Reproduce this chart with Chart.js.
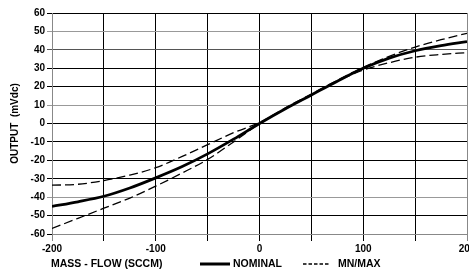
<!DOCTYPE html>
<html>
<head>
<meta charset="utf-8">
<script src="https://cdn.jsdelivr.net/npm/chart.js@4/dist/chart.umd.min.js"></script>
<style>
html,body{margin:0;padding:0;background:#fff;}
#wrap{position:relative;width:469px;height:269px;}
canvas{display:block;}
</style>
</head>
<body>
<div id="wrap"><canvas id="c" width="469" height="269"></canvas></div>
<script>
// ---- data ----
const flowValues = [-200,-175,-150,-125,-100,-75,-50,-25,0,25,50,75,100,125,150,175,200];
const nominalOutput = [-45,-42.5,-39.5,-35,-29.5,-23.5,-16.5,-8.5,0,8,15.5,23,30,35.5,39.5,42.3,44.5];
const flatLimit = [-33.5,-33,-31,-28,-24,-18,-11.5,-5,0.5,8,15.5,23,29,33,36,37.5,38.5];
const steepLimit = [-57,-51.5,-46,-40.5,-34,-27,-19.5,-10,0,8.5,16,23.5,30.5,36.5,41.5,45.5,49];
const xTickValues = [-200,-100,0,100,200];
const xGridValues = [-200,-150,-100,-50,0,50,100,150,200];
const yTickValues = [-60,-50,-40,-30,-20,-10,0,10,20,30,40,50,60];
const seriesLabels = ['NOMINAL','MN/MAX'];
const xAxisTitle = 'MASS - FLOW (SCCM)';
const yAxisTitle = 'OUTPUT  (mVdc)';
const grayYLines = [50,10,-40];
const midGrayYLines = [40];

const pts = arr => flowValues.map((x,i)=>({x:x,y:arr[i]}));
const FONT = '"Liberation Sans", Arial, sans-serif';

const legendRow = {
  id:'legendRow',
  afterDraw(chart){
    const ctx = chart.ctx;
    ctx.save();
    ctx.fillStyle = '#000';
    ctx.font = 'bold 10.5px ' + FONT;
    ctx.textBaseline = 'middle';
    ctx.textAlign = 'left';
    const y = 264;
    ctx.fillText(xAxisTitle, 51, y);
    ctx.strokeStyle = '#000';
    ctx.lineWidth = 3;
    ctx.setLineDash([]);
    ctx.beginPath(); ctx.moveTo(200,y); ctx.lineTo(230,y); ctx.stroke();
    ctx.fillText(seriesLabels[0], 233, y);
    ctx.lineWidth = 1.5;
    ctx.setLineDash([3.5,2]);
    ctx.beginPath(); ctx.moveTo(303,y); ctx.lineTo(330,y); ctx.stroke();
    ctx.setLineDash([]);
    ctx.fillText(seriesLabels[1], 338, y);
    ctx.restore();
  }
};

new Chart(document.getElementById('c'), {
  type:'line',
  data:{
    datasets:[
      {label:seriesLabels[0], data:pts(nominalOutput), borderColor:'#000', borderWidth:2.8, pointRadius:0, cubicInterpolationMode:'monotone', fill:false, order:0},
      {label:seriesLabels[1], data:pts(steepLimit), borderColor:'#000', borderWidth:1.3, borderDash:[9,4], pointRadius:0, cubicInterpolationMode:'monotone', fill:false, order:1},
      {label:seriesLabels[1]+' ', data:pts(flatLimit), borderColor:'#000', borderWidth:1.3, borderDash:[9,4], pointRadius:0, cubicInterpolationMode:'monotone', fill:false, order:1}
    ]
  },
  options:{
    responsive:false,
    animation:false,
    layout:{autoPadding:false, padding:{top:13,right:2,left:0,bottom:0}},
    plugins:{legend:{display:false}, tooltip:{enabled:false}},
    scales:{
      x:{
        type:'linear', min:-200, max:200,
        afterBuildTicks(s){ s.ticks = xGridValues.map(v=>({value:v})); },
        afterFit(s){ s.height = 35; s.paddingLeft = 0; s.paddingRight = 0; },
        grid:{
          color(c){ const v=c.tick&&c.tick.value; return (v===-200||v===200)?'#888':'#000'; },
          lineWidth:1, tickLength:7, drawTicks:true
        },
        border:{display:true,color:'#888',width:1},
        ticks:{
          padding:2, color:'#000', maxRotation:0, autoSkip:false,
          font:{family:FONT,size:10,weight:'bold'},
          callback(v){ return xTickValues.includes(v) ? String(v) : ''; }
        }
      },
      y:{
        type:'linear', min:-60, max:60,
        afterBuildTicks(s){ s.ticks = yTickValues.map(v=>({value:v})); },
        afterFit(s){ s.width = 52; s.paddingTop = 0; s.paddingBottom = 0; },
        grid:{
          color(c){ const v=c.tick&&c.tick.value; if(grayYLines.includes(v)) return '#999'; if(midGrayYLines.includes(v)) return '#555'; return '#000'; },
          lineWidth:1, tickLength:5, drawTicks:true
        },
        border:{display:true,color:'#888',width:1},
        ticks:{
          padding:2, color:'#000', autoSkip:false,
          font:{family:FONT,size:10,weight:'bold'}
        },
        title:{display:true,text:yAxisTitle,color:'#000',font:{family:FONT,size:10,weight:'bold'},padding:{top:9,bottom:0}}
      }
    }
  },
  plugins:[legendRow]
});
</script>
</body>
</html>
